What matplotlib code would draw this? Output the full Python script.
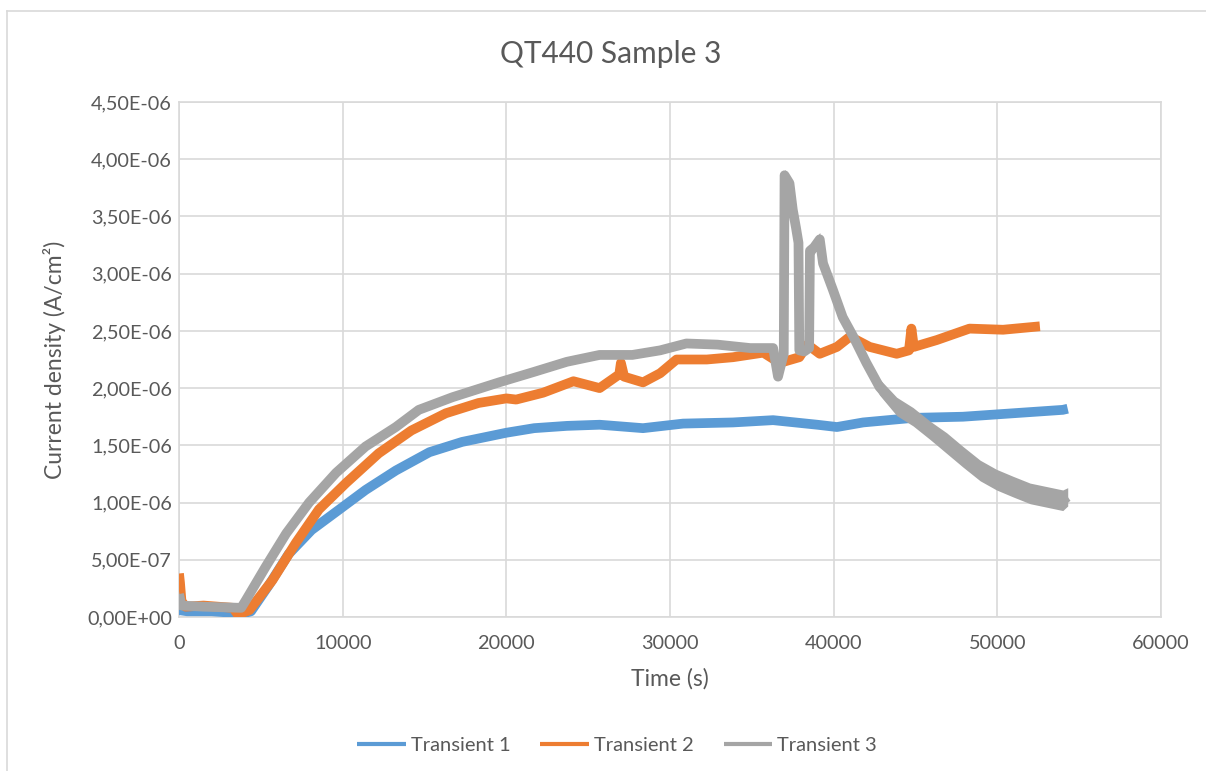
import numpy as np
import matplotlib.pyplot as plt
from matplotlib.lines import Line2D
from matplotlib.ticker import FuncFormatter, MultipleLocator

# values (time in s, current density in 1e-6 A/cm2)
t1 = [0, 500, 2000, 3900, 4400, 5500, 6700, 8100, 9800, 11400, 13250, 15300, 17300, 20000,
      21700, 23700, 25700, 28350, 30800, 33850, 36300, 39000, 40200, 41800, 44850, 47900,
      50950, 54000, 54300]
j1 = [0.06, 0.05, 0.05, 0.03, 0.05, 0.28, 0.55, 0.76, 0.94, 1.11, 1.28, 1.44, 1.53, 1.61,
      1.65, 1.67, 1.68, 1.65, 1.69, 1.70, 1.72, 1.68, 1.66, 1.70, 1.74, 1.75,
      1.78, 1.81, 1.82]

t2 = [0, 60, 150, 400, 1500, 3300, 3600, 4300, 5700, 7150, 8550, 10200, 12200, 14200, 16300,
      18300, 20000, 20600, 22250, 24100, 25700, 26900, 27000, 27200, 28350, 29400, 30400,
      32250, 33850, 35700, 36700, 37900, 38400, 39150, 40200, 41000, 42200, 43850, 44600, 44750,
      44900, 46300, 48300, 50350, 52600]
j2 = [0.38, 0.30, 0.14, 0.09, 0.10, 0.08, 0.02, 0.06, 0.32, 0.65, 0.94, 1.17, 1.43, 1.63, 1.78,
      1.87, 1.91, 1.90, 1.96, 2.06, 2.00, 2.12, 2.22, 2.10, 2.05, 2.13, 2.25,
      2.25, 2.27, 2.31, 2.22, 2.27, 2.38, 2.30, 2.36, 2.45, 2.36, 2.30, 2.33, 2.52,
      2.36, 2.42, 2.52, 2.51, 2.54]

t3 = [0, 150, 1500, 3800, 4100, 5300, 6550, 7950, 9600, 11400, 13250, 14650, 16700, 19550,
      21650, 23700, 25700, 27700, 29400, 31000, 32900, 34900, 36300, 36600, 36950, 37000,
      37300, 37500, 37700, 37850, 37900, 38200, 38500, 38550, 38800, 39150, 39350, 39950,
      40550, 41200, 42000, 42800, 43850, 44850, 45900, 46900, 47900, 48950, 49950, 50950,
      52000, 53000, 54000, 54300]
j3 = [0.20, 0.10, 0.09, 0.08, 0.15, 0.44, 0.73, 1.00, 1.26, 1.49, 1.66, 1.81, 1.92, 2.05,
      2.14, 2.23, 2.29, 2.29, 2.33, 2.39, 2.38, 2.35, 2.35, 2.10, 2.30, 3.86,
      3.79, 3.56, 3.40, 3.27, 2.33, 2.32, 2.35, 3.20, 3.23, 3.30, 3.09, 2.86,
      2.62, 2.45, 2.22, 2.01, 1.84, 1.75, 1.63, 1.52, 1.40, 1.28, 1.20, 1.14,
      1.08, 1.05, 1.02, 1.05]
# noise half-width of transient 3 (1e-6 A/cm2)
s3 = [0.03, 0.03, 0.03, 0.03, 0.03, 0.03, 0.03, 0.03, 0.03, 0.03, 0.03, 0.03, 0.03, 0.03,
      0.03, 0.03, 0.03, 0.03, 0.03, 0.03, 0.03, 0.03, 0.03, 0.03, 0.03, 0.05,
      0.06, 0.06, 0.06, 0.06, 0.03, 0.03, 0.03, 0.05, 0.06, 0.06, 0.06, 0.06,
      0.06, 0.06, 0.07, 0.07, 0.08, 0.08, 0.08, 0.09, 0.09, 0.09, 0.09, 0.09,
      0.09, 0.09, 0.09, 0.08]

labels = ['Transient 1', 'Transient 2', 'Transient 3']
colors = ['#5b9bd5', '#ed7d31', '#a5a5a5']

txt = '#595959'
grid = '#d9d9d9'
plt.rcParams['font.family'] = ['Lato', 'DejaVu Sans']

W, H = 1206, 771
fig = plt.figure(figsize=(W / 100, H / 100), dpi=100)
ax = fig.add_axes([179 / W, 1 - 617 / H, (1161 - 179) / W, (617 - 102) / H])

series = [(t1, j1), (t2, j2), (t3, j3)]
for (t, j), c, lab in zip(series, colors, labels):
    ax.plot(t, np.array(j) * 1e-6, color=c, lw=7, label=lab,
            solid_joinstyle='round', solid_capstyle='butt', zorder=3)

j3a = np.array(j3) * 1e-6
s3a = np.array(s3) * 1e-6
ax.fill_between(t3, j3a - s3a, j3a + s3a, color=colors[2], lw=0, zorder=3)

ax.set_xlim(0, 60000)
ax.set_ylim(0, 4.5e-6)
ax.xaxis.set_major_locator(MultipleLocator(10000))
ax.yaxis.set_major_locator(MultipleLocator(5e-7))
ax.yaxis.set_major_formatter(FuncFormatter(lambda v, p: f'{v:.2E}'.replace('.', ',')))
ax.grid(True, color=grid, lw=1.2, zorder=0)
for sp in ax.spines.values():
    sp.set_color(grid)
    sp.set_linewidth(1.2)
ax.tick_params(length=0, labelsize=14.3, colors=txt)
ax.tick_params(axis='y', pad=5)
ax.tick_params(axis='x', pad=13)

fig.text(611 / W, 1 - 54 / H, 'QT440 Sample 3', fontsize=21.5, color=txt, ha='center', va='center')
fig.text(670 / W, 1 - 679 / H, 'Time (s)', fontsize=16.5, color=txt, ha='center', va='center')
fig.text(55 / W, 1 - 360 / H, 'Current density (A/cm²)', fontsize=16.5, color=txt,
         ha='center', va='center', rotation=90)

handles, labs = ax.get_legend_handles_labels()
leg = fig.legend(handles, labs, loc='center', bbox_to_anchor=(617 / W, 1 - 745 / H), ncol=3,
                 frameon=False, fontsize=14.5, handlelength=2.4, handletextpad=0.25,
                 columnspacing=1.5)
for line in leg.get_lines():
    line.set_linewidth(3)
for tx in leg.get_texts():
    tx.set_color(txt)

# chart area border
fig.add_artist(Line2D([0.006, 1.0], [0.986, 0.986], color=grid, lw=1.2))
fig.add_artist(Line2D([0.006, 0.006], [0.0, 0.986], color=grid, lw=1.2))

fig.savefig('out.png', dpi=100)
